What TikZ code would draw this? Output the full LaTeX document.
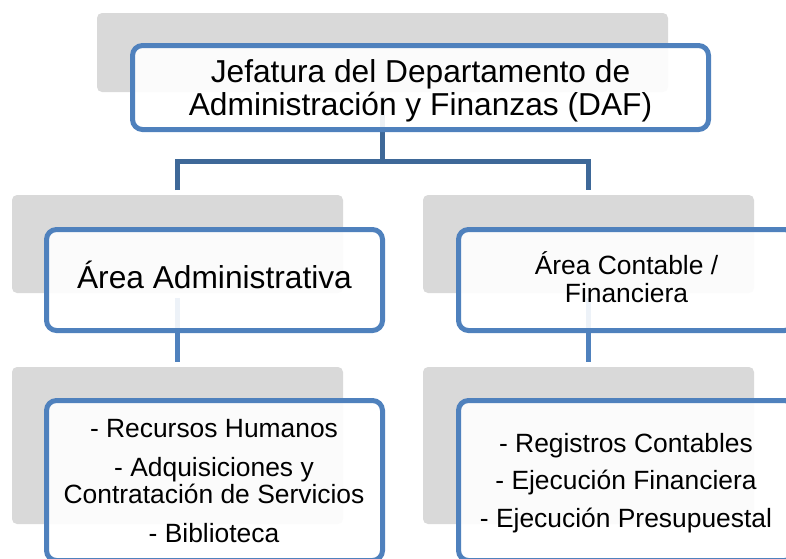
\documentclass[tikz,border=0pt]{standalone}
\usepackage{fontspec}
\setmainfont{Liberation Sans}
\usetikzlibrary{calc}
\definecolor{boxblue}{HTML}{4F81BD}
\definecolor{treeblue}{HTML}{3E6898}
\definecolor{shadegray}{HTML}{D9D9D9}
\tikzset{
  backbox/.style={rectangle, fill=shadegray, rounded corners=5pt, inner sep=0pt, outer sep=0pt},
  frontbox/.style={rectangle, draw=boxblue, line width=5pt, fill=white, fill opacity=0.9, rounded corners=10pt, inner sep=0pt, outer sep=0pt},
  treeline/.style={draw=treeblue, line width=5pt, line join=miter},
  subline/.style={draw=boxblue, line width=5pt},
  bigtxt/.style={font=\fontsize{31.7}{33}\selectfont, anchor=base, inner sep=0pt},
  smalltxt/.style={font=\fontsize{26.4}{28}\selectfont, anchor=base, inner sep=0pt},
}
\begin{document}
\begin{tikzpicture}[x=1pt,y=-1pt]
\useasboundingbox (0,0) rectangle (786,558);
\clip (0,0) rectangle (786,558);
% shaded back boxes
\node[backbox, minimum width=571pt, minimum height=79pt] (g0) at (382.5,52.5) {};
\node[backbox, minimum width=331pt, minimum height=98pt] (g1) at (177.5,244) {};
\node[backbox, minimum width=331pt, minimum height=98pt] (g2) at (588.5,244) {};
\node[backbox, minimum width=331pt, minimum height=157pt] (g3) at (177.5,445.5) {};
\node[backbox, minimum width=331pt, minimum height=157pt] (g4) at (588.5,445.5) {};
% connectors
\coordinate (j) at (382.5,161);
\draw[treeline] ($(g0.south)+(0,5)$) -- (j);
\draw[treeline] ($(g1.north)+(0,-5)$) |- (j) -| ($(g2.north)+(0,-5)$);
\draw[subline] ($(g1.south)+(0,5)$) -- ($(g3.north)+(0,-5)$);
\draw[subline] ($(g2.south)+(0,5)$) -- ($(g4.north)+(0,-5)$);
% front boxes
\node[frontbox, minimum width=576pt, minimum height=84pt] (w0) at (420.5,87.5) {};
\node[frontbox, minimum width=336pt, minimum height=101pt] (w1) at (214.5,280) {};
\node[frontbox, minimum width=336pt, minimum height=101pt] (w2) at (626.5,280) {};
\node[frontbox, minimum width=336pt, minimum height=160pt] (w3) at (214.5,480.5) {};
\node[frontbox, minimum width=336pt, minimum height=160pt] (w4) at (626.5,480.5) {};
% texts
\node[bigtxt] (t0a) at (420.5,82) {Jefatura del Departamento de};
\node[bigtxt] (t0b) at (420.5,115) {Administración y Finanzas (DAF)};
\node[bigtxt] (t1) at (214.5,288) {Área Administrativa};
\node[smalltxt] (t2a) at (626.5,274) {Área Contable /};
\node[smalltxt] (t2b) at (626.5,302) {Financiera};
\node[smalltxt] (t3a) at (214,437) {- Recursos Humanos};
\node[smalltxt] (t3b) at (214,476) {- Adquisiciones y};
\node[smalltxt] (t3c) at (214,503) {Contratación de Servicios};
\node[smalltxt] (t3d) at (214,542) {- Biblioteca};
\node[smalltxt] (t4a) at (626,452) {- Registros Contables};
\node[smalltxt] (t4b) at (626,489) {- Ejecución Financiera};
\node[smalltxt] (t4c) at (626,527) {- Ejecución Presupuestal};
\end{tikzpicture}
\end{document}
